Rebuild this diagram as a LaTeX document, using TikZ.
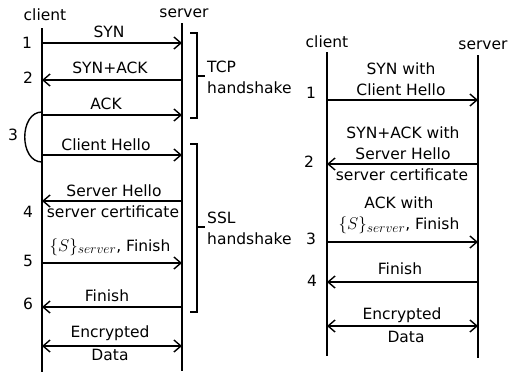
\RequirePackage{fix-cm}
\documentclass[tikz,border=0pt]{standalone}
\usepackage{fontspec}
\setmainfont{DejaVu Sans}
\usetikzlibrary{arrows.meta}
\DeclareMathSizes{15.5}{17}{13.5}{10}

\tikzset{
  lifeline/.style={line width=1.8pt},
  msg/.style={line width=1.4pt, -{Straight Barb[length=7pt,width=12pt,line width=1.4pt]}},
  datamsg/.style={line width=1.4pt, {Straight Barb[length=7pt,width=12pt,line width=1.4pt]}-{Straight Barb[length=7pt,width=12pt,line width=1.4pt]}},
  brk/.style={line width=1.1pt},
  lbl/.style={font=\fontsize{15.5}{21}\selectfont, inner sep=0pt, align=center},
}

\begin{document}
\begin{tikzpicture}[x=1pt, y=-1pt]
  \useasboundingbox (0,0) rectangle (508,375);

  % left: separate TCP and SSL handshakes
  \foreach \n/\y in {1/43,2/80,3/115,4/155,5/201,6/263,7/307,8/346}{
    \coordinate (lc\n) at (42,\y);
    \coordinate (ls\n) at (182,\y);
  }
  \coordinate (lc top) at (42,28);
  \coordinate (lc bot) at (42,372);
  \coordinate (ls top) at (182,23);
  \coordinate (ls bot) at (182,371);

  \node[lbl] (lclient) at (45,15) {client};
  \node[lbl] (lserver) at (184,13) {server};
  \draw[lifeline] (lc top) -- (lc bot);
  \draw[lifeline] (ls top) -- (ls bot);

  % messages
  \draw[msg] (lc1) -- (ls1);
  \node[lbl] (syn) at (109,32) {SYN};
  \node[lbl] (n1) at (27,43) {1};

  \draw[msg] (ls2) -- (lc2);
  \node[lbl] (synack) at (110,68) {SYN+ACK};
  \node[lbl] (n2) at (28,78) {2};

  \draw[msg] (lc3) -- (ls3);
  \node[lbl] (ack) at (106,104) {ACK};

  \draw[msg] (lc4) -- (ls4);
  \node[lbl] (chello) at (106,145) {Client Hello};

  % the two messages sent together
  \draw[brk, line width=1.4pt] ([yshift=3pt]lc3) .. controls (19,112) and (19,162) .. ([yshift=-7pt]lc4);
  \node[lbl] (n3) at (13,135) {3};

  \draw[msg] (ls5) -- (lc5);
  \node[lbl] (shello) at (114,191) {Server Hello};
  \node[lbl] (scert) at (113,212) {server certificate};
  \node[lbl] (n4) at (28,212) {4};

  \draw[msg] (lc6) -- (ls6);
  \node[lbl] (skey) at (110,247) {$\{S\}_{server}$, Finish};
  \node[lbl] (n5) at (28,261) {5};

  \draw[msg] (ls7) -- (lc7);
  \node[lbl] (fin) at (107,296) {Finish};
  \node[lbl] (n6) at (28,304) {6};

  \draw[datamsg] (lc8) -- (ls8);
  \node[lbl] (enc) at (110,333) {Encrypted};
  \node[lbl] (data) at (110,355) {Data};

  % brackets
  \draw[brk] (190,33) -- (197,33) -- (197,118) -- (190,118);
  \draw[brk] (197,76) -- (205,76);
  \node[lbl, anchor=west, align=left] (tcp) at (207,77) {TCP\\handshake};
  \draw[brk] (190,144) -- (197,144) -- (197,312) -- (190,312);
  \draw[brk] (197,227) -- (205,227);
  \node[lbl, anchor=west, align=left] (ssl) at (207,228) {SSL\\handshake};

  % right: combined handshake
  \foreach \n/\y in {1/100,2/164,3/242,4/282,5/326}{
    \coordinate (rc\n) at (327,\y);
    \coordinate (rs\n) at (478,\y);
  }
  \coordinate (rc top) at (327,52);
  \coordinate (rc bot) at (327,356);
  \coordinate (rs top) at (478,55);
  \coordinate (rs bot) at (478,358);

  \node[lbl] (rclient) at (327,42) {client};
  \node[lbl] (rserver) at (483,45) {server};
  \draw[lifeline] (rc top) -- (rc bot);
  \draw[lifeline] (rs top) -- (rs bot);

  \draw[msg] (rc1) -- (rs1);
  \node[lbl] (synch) at (401,79.5) {SYN with\\Client Hello};
  \node[lbl] (r1) at (311,93) {1};

  \draw[msg] (rs2) -- (rc2);
  \node[lbl] (synacksh) at (403,143.5) {SYN+ACK with\\Server Hello};
  \node[lbl] (rscert) at (402,175) {server certificate};
  \node[lbl] (r2) at (309,162) {2};

  \draw[msg] (rc3) -- (rs3);
  \node[lbl] (ackkey) at (399,215.5) {ACK with\\$\{S\}_{server}$, Finish};
  \node[lbl] (r3) at (311,239) {3};

  \draw[msg] (rs4) -- (rc4);
  \node[lbl] (rfin) at (400,269) {Finish};
  \node[lbl] (r4) at (312,281) {4};

  \draw[datamsg] (rc5) -- (rs5);
  \node[lbl] (renc) at (402,315) {Encrypted};
  \node[lbl] (rdata) at (406,337) {Data};
\end{tikzpicture}
\end{document}
